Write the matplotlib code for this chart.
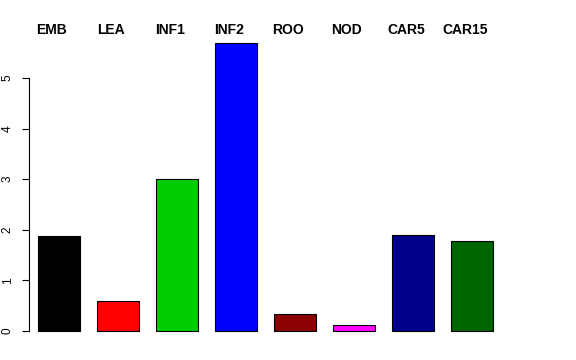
import matplotlib
matplotlib.use("Agg")
import matplotlib.pyplot as plt
import numpy as np

plt.rcParams["font.family"] = ["Liberation Sans", "DejaVu Sans"]

# ── Data ─────────────────────────────────────────────────────────────────────
tissues = ["EMB", "LEA", "INF1", "INF2", "ROO", "NOD", "CAR5", "CAR15"]
values  = [1.88, 0.60, 3.01, 5.69, 0.33, 0.12, 1.90, 1.78]
colors  = ["#000000", "#FF0000", "#00CD00", "#0000FF",
           "#8B0000", "#FF00FF", "#00008B", "#006400"]

# ── Layout (pixels of a 576x360 canvas) ──────────────────────────────────────
W, H = 576, 360
fig = plt.figure(figsize=(W / 100, H / 100), dpi=100, facecolor="white")
left_px, right_px, top_px, bot_px = 29, 512, 35, 345
ax = fig.add_axes([left_px / W, 1 - bot_px / H,
                   (right_px - left_px) / W, (bot_px - top_px) / H])

x = np.arange(len(tissues))
ax.bar(x, values, width=0.71, color=colors, edgecolor="black", linewidth=0.8)

# map pixels -> data: bar centres 59 px apart, zero line at 331 px, 50.6 px/unit
ax.set_xlim((left_px - 59) / 59, (right_px - 59) / 59)
ax.set_ylim((331 - bot_px) / 50.6, (331 - top_px) / 50.6)

for s in ["top", "right", "bottom"]:
    ax.spines[s].set_visible(False)
ax.spines["left"].set_bounds(0, 5)
ax.spines["left"].set_linewidth(0.8)
ax.set_xticks([])
ax.set_yticks(range(6))
ax.set_yticklabels([str(i) for i in range(6)], rotation=90, va="center",
                   fontsize=8.5)
ax.tick_params(axis="y", length=5, width=0.8, pad=6)

for i, name in enumerate(tissues):
    ax.text(i - 0.12, (331 - 30) / 50.6, name, ha="center", va="center",
            fontsize=10, fontweight="bold", clip_on=False)

fig.savefig("out.png", dpi=100, facecolor="white")
